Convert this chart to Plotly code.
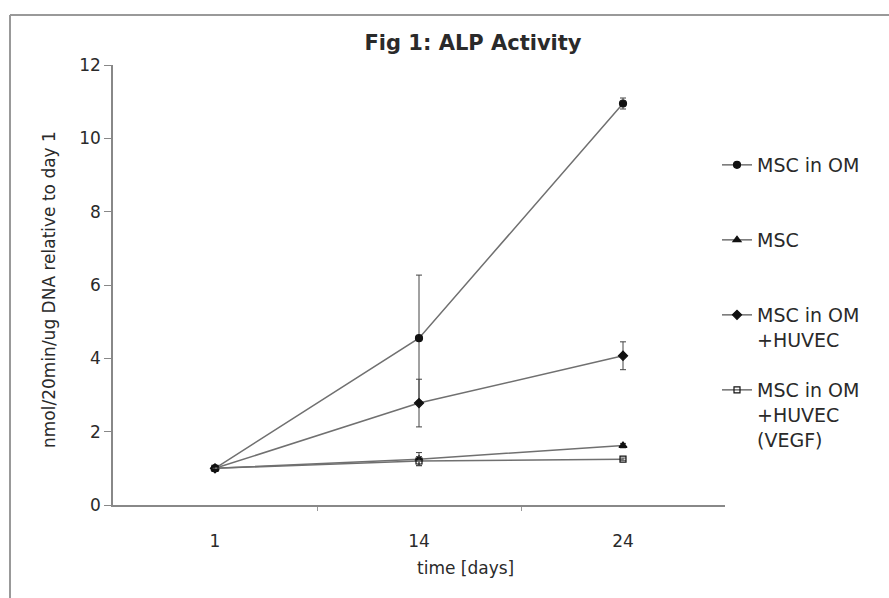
import plotly.graph_objects as go

days = ["1", "14", "24"]
xpos = [0, 1, 2]

msc_om = [1.0, 4.55, 10.95]
msc_om_err = [0.0, 1.72, 0.15]
msc = [1.0, 1.25, 1.62]
msc_err = [0.0, 0.18, 0.06]
huvec = [1.0, 2.78, 4.07]
huvec_err = [0.0, 0.65, 0.38]
vegf = [1.0, 1.2, 1.25]
vegf_err = [0.0, 0.12, 0.03]

names = ["MSC in OM", "MSC", "MSC in OM<br>+HUVEC", "MSC in OM<br>+HUVEC<br>(VEGF)"]
symbols = ["circle", "triangle-up", "diamond", "square-open"]
series = [msc_om, msc, huvec, vegf]
errors = [msc_om_err, msc_err, huvec_err, vegf_err]
legend_ids = ["legend", "legend2", "legend3", "legend4"]
legend_top_px = [146, 221, 296, 371]

FONT = "DejaVu Sans, Arial, sans-serif"
L, R, T, B = 113, 164, 65, 93
W, H = 889, 598
pw, ph = W - L - R, H - T - B

def px_x(p):
    return (p - L) / pw

def px_y(p):
    return (H - B - p) / ph

fig = go.Figure()
for i in range(4):
    fig.add_trace(go.Scatter(
        x=xpos, y=series[i], name=names[i], mode="lines+markers",
        line=dict(color="#707070", width=1.5),
        marker=dict(symbol=symbols[i], size=7 if i != 3 else 6, color="#111",
                    line=dict(color="#111", width=1.2)),
        error_y=dict(type="data", array=errors[i], visible=True,
                     color="#444", thickness=1, width=3),
        legend=legend_ids[i],
    ))

layout_legends = {}
for i, lid in enumerate(legend_ids):
    layout_legends[lid] = dict(
        x=px_x(717), y=px_y(legend_top_px[i]), xanchor="left", yanchor="top",
        bgcolor="rgba(0,0,0,0)", font=dict(family=FONT, size=19, color="#2a2a2a"),
        itemwidth=30, tracegroupgap=0, valign="top",
    )

fig.update_layout(
    width=W, height=H,
    margin=dict(l=L, r=R, t=T, b=B, autoexpand=False),
    paper_bgcolor="white", plot_bgcolor="white",
    font=dict(family=FONT, color="#2a2a2a"),
    title=dict(text="<b>Fig 1: ALP Activity</b>", x=473 / W, xanchor="center",
               y=1 - 43 / H, yanchor="middle", yref="container",
               font=dict(family=FONT, size=21, color="#2a2a2a")),
    xaxis=dict(range=[-0.5, 2.5], tickvals=xpos, ticktext=days, ticks="",
               showline=True, linecolor="#888", linewidth=1.5,
               showgrid=False, zeroline=False,
               tickfont=dict(family=FONT, size=17, color="#2a2a2a"),
               ticklabelstandoff=20,
               minor=dict(tickvals=[0.5, 1.5], ticks="outside", ticklen=4,
                          tickcolor="#999", showgrid=False)),
    yaxis=dict(range=[0, 12], tickvals=[0, 2, 4, 6, 8, 10, 12], ticks="outside",
               ticklen=7, tickcolor="#888", showline=True, linecolor="#888",
               linewidth=1.5, showgrid=False, zeroline=False,
               tickfont=dict(family=FONT, size=17, color="#2a2a2a")),
    showlegend=True,
    **layout_legends,
)

fig.add_annotation(text="nmol/20min/ug DNA relative to day 1", textangle=-90,
                   xref="paper", yref="paper", x=px_x(37), y=px_y(290),
                   showarrow=False, font=dict(family=FONT, size=17, color="#2a2a2a"))
fig.add_annotation(text="time [days]", xref="paper", yref="paper",
                   x=px_x(466), y=px_y(580), showarrow=False,
                   font=dict(family=FONT, size=17, color="#2a2a2a"))

# outer frame (top and left edges)
fig.add_shape(type="line", xref="paper", yref="paper",
              x0=px_x(10), x1=px_x(W + 5), y0=px_y(15), y1=px_y(15),
              line=dict(color="#999", width=2))
fig.add_shape(type="line", xref="paper", yref="paper",
              x0=px_x(10), x1=px_x(10), y0=px_y(15), y1=px_y(H + 5),
              line=dict(color="#999", width=2))

fig.write_html("out.html")
